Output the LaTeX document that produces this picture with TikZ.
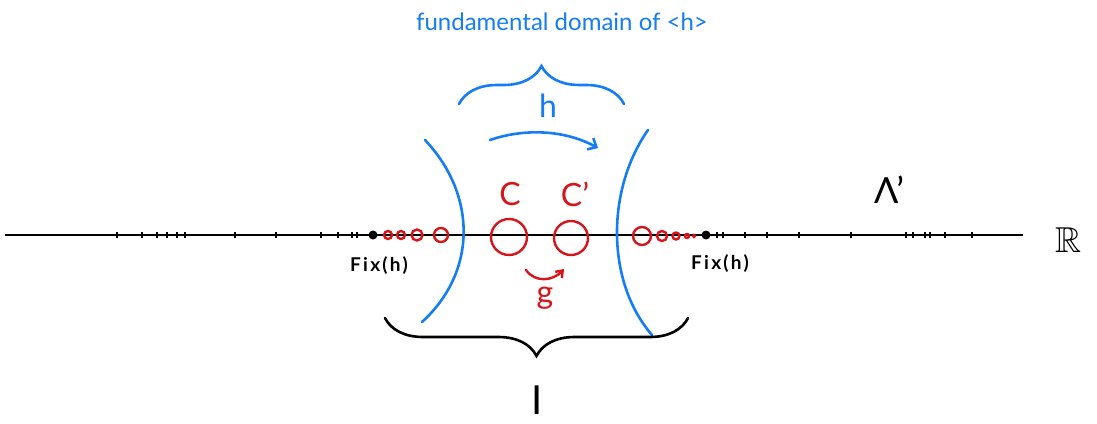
\documentclass[tikz,border=0pt]{standalone}
\usepackage{fontspec}
\usepackage{amssymb}
\setmainfont{Lato}
\usetikzlibrary{arrows.meta,decorations.pathreplacing}
\definecolor{hblue}{RGB}{20,125,245}
\definecolor{hred}{RGB}{215,20,25}
\begin{document}
\begin{tikzpicture}[x=1pt,y=-1pt,
  axisline/.style={line width=2.4pt,black},
  tickmark/.style={line width=1.8pt,black},
  bluecurve/.style={line width=2.6pt,hblue,line cap=round},
  redring/.style={circle,draw=hred,line width=2.4pt,inner sep=0pt},
  fixdot/.style={circle,fill=black,inner sep=0pt,minimum size=9pt},
  lbl/.style={inner sep=0pt,font=\fontsize{19}{19}\selectfont\bfseries\addfontfeature{LetterSpace=12}},
  bluebrace/.style={bluecurve,decorate,decoration={brace,amplitude=38pt}},
  blackbrace/.style={line width=2.6pt,black,line cap=round,decorate,decoration={brace,amplitude=38pt,mirror}}]
\useasboundingbox (0,0) rectangle (1097,423);
% real line
\coordinate (L) at (5,235);
\coordinate (R) at (1023,235);
\draw[axisline] (L) -- (R);
\node[inner sep=0pt,font=\fontsize{36}{36}\selectfont] (RR) at (1068,240) {$\mathbb{R}$};
% ticks
\foreach \t in {117,142,157,167,177,185,235,276,321,338,352,357,717,723,745,767,799,851,906,913,925,930,945,972}
  \draw[tickmark] (\t,232) -- (\t,238);
% fixed points
\node[fixdot] (F1) at (373,235) {};
\node[fixdot] (F2) at (706,235) {};
\node[lbl] (F1l) at (379,266) {Fix(h)};
\node[lbl] (F2l) at (720,264) {Fix(h)};
% red circles
\node[redring,minimum size=8pt] (a1) at (388,235) {};
\node[redring,minimum size=8pt] (a2) at (401,235) {};
\node[redring,minimum size=11pt] (a3) at (417,235) {};
\node[redring,minimum size=14pt] (a4) at (441,235) {};
\node[redring,minimum size=36pt] (C) at (509,237) {};
\node[redring,minimum size=34pt] (Cp) at (571,238) {};
\node[redring,minimum size=18pt] (b1) at (642,236) {};
\node[redring,minimum size=10pt] (b2) at (662,236) {};
\node[redring,minimum size=7pt] (b3) at (676,236) {};
\node[redring,minimum size=4pt] (b4) at (687,236) {};
\node[redring,minimum size=2pt] (b5) at (694,236) {};
\node[inner sep=0pt,text=hred,font=\fontsize{32}{32}\selectfont] (Cl) at (510,194) {C};
\node[inner sep=0pt,text=hred,font=\fontsize{32}{32}\selectfont] (Cpl) at (575,194) {C'};
% g arrow
\coordinate (g1) at (526,270);
\coordinate (g2) at (564,269);
\draw[line width=2.4pt,hred,line cap=round,-{Straight Barb[length=6pt,width=9pt]}] (g1) .. controls (535,283) and (553,281) .. (g2);
\node[inner sep=0pt,text=hred,font=\fontsize{32}{32}\selectfont] (gl) at (545,298) {g};
% blue arcs
\coordinate (la) at (425,140);
\coordinate (lb) at (422,322);
\draw[bluecurve] (la) .. controls (477,195) and (477,272) .. (lb);
\coordinate (ra) at (648,130);
\coordinate (rb) at (652,335);
\draw[bluecurve] (ra) .. controls (606,190) and (606,282) .. (rb);
% h arrow
\coordinate (h1) at (490,140);
\coordinate (h2) at (598,148);
\draw[bluecurve,-{Straight Barb[length=7pt,width=13pt]}] (h1) .. controls (525,128) and (565,130) .. (h2);
\node[inner sep=0pt,text=hblue,font=\fontsize{32}{32}\selectfont] (hl) at (548,106) {h};
% top brace
\coordinate (tb1) at (459,104);
\coordinate (tb2) at (624,104);
\draw[bluebrace] (tb1) -- (tb2);
\node[inner sep=0pt,text=hblue,font=\fontsize{24}{24}\selectfont] (title) at (562,22) {fundamental domain of <h>};
% bottom brace
\coordinate (bb1) at (385,318);
\coordinate (bb2) at (688,318);
\draw[blackbrace] (bb1) -- (bb2);
\node[inner sep=0pt,font=\fontsize{40}{40}\selectfont] (Il) at (537,400) {I};
% Lambda'
\node[inner sep=0pt,font=\fontsize{36}{36}\selectfont] (Lam) at (889,190) {Λ'};
\end{tikzpicture}
\end{document}
